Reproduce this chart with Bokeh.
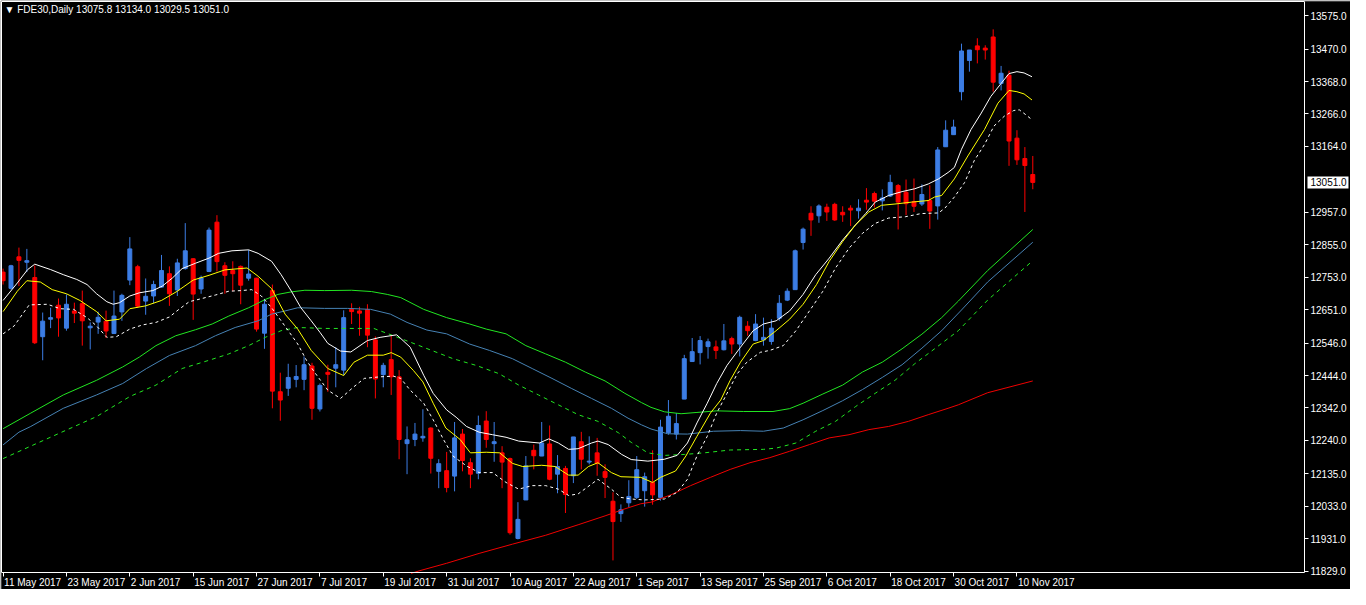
from bokeh.plotting import figure
from bokeh.models import (Range1d, FixedTicker, NumeralTickFormatter, Label, ColumnDataSource,
                          LinearAxis)
from bokeh.core.properties import value
from bokeh.embed import file_html
from bokeh.resources import INLINE

# ---------------- candle data (daily bars, index 0 = 11 May 2017) ----------------
opens = [12769, 12718, 12817, 12800, 12752, 12566, 12621, 12665, 12593, 12647,
         12670, 12594, 12612, 12615, 12576, 12644, 12744, 12786, 12678, 12694,
         12722, 12764, 12713, 12780, 12811, 12716, 12771, 12926, 12789, 12774,
         12787, 12750, 12750, 12577, 12711, 12393, 12404, 12432, 12432, 12474,
         12339, 12454, 12467, 12461, 12652, 12647, 12651, 12556, 12447, 12494,
         12440, 12230, 12243, 12248, 12279, 12143, 12145, 12128, 12260, 12170,
         12137, 12301, 12230, 12201, 12183, 11932, 12053, 12209, 12191, 12229,
         12134, 12152, 12129, 12236, 12172, 12201, 12142, 12049, 12010, 12044,
         12061, 12082, 12108, 12061, 12264, 12260, 12370, 12488, 12516, 12535,
         12534, 12525, 12560, 12543, 12599, 12554, 12556, 12551, 12624, 12681,
         12714, 12862, 12954, 12946, 12973, 12982, 12957, 12970, 12962, 12995,
         13016, 12993, 13008, 13041, 13020, 12991, 12983, 12994, 12977, 13163,
         13201, 13336, 13434, 13480, 13473, 13508, 13362, 13388, 13190, 13126,
         13075.8]
highs = [12780, 12792, 12846, 12842, 12790, 12642, 12657, 12686, 12699, 12673,
         12711, 12611, 12645, 12648, 12711, 12701, 12879, 12792, 12749, 12742,
         12823, 12787, 12811, 12923, 12813, 12758, 12909, 12948, 12800, 12803,
         12790, 12839, 12751, 12685, 12730, 12453, 12481, 12477, 12504, 12484,
         12419, 12478, 12533, 12649, 12671, 12660, 12668, 12567, 12484, 12569,
         12461, 12284, 12295, 12338, 12281, 12181, 12204, 12298, 12276, 12184,
         12318, 12332, 12298, 12222, 12186, 12046, 12191, 12227, 12298, 12287,
         12194, 12160, 12251, 12267, 12253, 12248, 12165, 12077, 12039, 12115,
         12191, 12139, 12209, 12305, 12367, 12326, 12509, 12562, 12568, 12560,
         12554, 12606, 12566, 12632, 12615, 12637, 12626, 12621, 12697, 12718,
         12840, 12909, 12976, 12982, 12984, 12987, 12976, 12979, 12998, 13033,
         13022, 13029, 13075, 13046, 13060, 13063, 13045, 13042, 13162, 13246,
         13248, 13487, 13467, 13504, 13482, 13532, 13417, 13402, 13215, 13162,
         13134.0]
lows = [12730, 12714, 12725, 12769, 12543, 12492, 12593, 12566, 12585, 12609,
        12538, 12526, 12575, 12562, 12575, 12616, 12728, 12657, 12635, 12671,
        12720, 12663, 12694, 12777, 12619, 12701, 12769, 12771, 12701, 12709,
        12668, 12742, 12582, 12528, 12341, 12302, 12380, 12407, 12398, 12305,
        12331, 12393, 12407, 12445, 12606, 12569, 12533, 12372, 12407, 12383,
        12181, 12134, 12222, 12236, 12136, 12090, 12077, 12080, 12143, 12090,
        12118, 12217, 12173, 12090, 11944, 11929, 12053, 12149, 12191, 12115,
        12074, 12012, 12106, 12149, 12165, 12129, 12059, 11863, 11984, 12030,
        12056, 12032, 12038, 12051, 12258, 12243, 12370, 12488, 12479, 12497,
        12496, 12523, 12512, 12504, 12569, 12552, 12538, 12541, 12616, 12678,
        12714, 12840, 12883, 12924, 12930, 12930, 12927, 12914, 12937, 12965,
        12972, 12963, 13005, 12903, 12948, 12958, 12977, 12905, 12934, 13163,
        13201, 13309, 13399, 13425, 13437, 13336, 13340, 13103, 13106, 12958,
        13029.5]
closes = [12742, 12789, 12806, 12805, 12547, 12615, 12626, 12625, 12668, 12640,
          12616, 12599, 12627, 12584, 12631, 12696, 12842, 12662, 12693, 12730,
          12774, 12701, 12798, 12836, 12700, 12751, 12901, 12802, 12759, 12764,
          12728, 12763, 12590, 12668, 12395, 12367, 12438, 12441, 12478, 12341,
          12413, 12448, 12478, 12626, 12645, 12640, 12571, 12433, 12476, 12440,
          12243, 12242, 12260, 12253, 12184, 12167, 12092, 12248, 12177, 12134,
          12287, 12243, 12236, 12172, 11950, 11992, 12160, 12192, 12232, 12118,
          12158, 12070, 12251, 12181, 12175, 12168, 12124, 11985, 12022, 12064,
          12148, 12126, 12069, 12282, 12316, 12293, 12497, 12519, 12554, 12550,
          12523, 12553, 12543, 12627, 12585, 12606, 12564, 12593, 12671, 12709,
          12836, 12904, 12933, 12977, 12958, 12933, 12949, 12964, 12970, 12989,
          12992, 13002, 13051, 12989, 12984, 12976, 13013, 12961, 13153, 13215,
          13225, 13464, 13467, 13468, 13467, 13366, 13394, 13181, 13122, 13104,
          13051.0]

# ---------------- indicator lines (x = bar index) ----------------
fast_upper_x = [0, 1.8, 3.1, 4.0, 6.0, 7.6, 9.3, 10.6, 11.8, 13.1, 13.9, 14.7, 16.0, 17.2, 18.9,
                20.1, 21.4, 22.6, 24.3, 26.0, 27.2, 28.9, 31.0, 32.2, 33.9, 35.1, 36.4, 37.6,
                38.9, 40.0, 41.0, 42.6, 43.9, 46.0, 47.6, 49.7, 51.4, 53.1, 54.3, 56.0, 57.2,
                58.5, 60.1, 61.8, 63.5, 65.1, 67.7, 68.9, 70.1, 71.4, 72.6, 74.3, 75.1, 76.4,
                78.1, 79.3, 81.4, 83.5, 85.1, 86.4, 87.6, 88.9, 90.1, 91.4, 93.1, 94.7, 96.0,
                97.6, 99.3, 101.0, 102.6, 104.3, 106.0, 107.6, 108.9, 110.1, 111.8, 113.5,
                115.1, 116.8, 118.1, 119.3, 120.1, 121.0, 122.2, 123.5, 124.7, 126.0, 127.0,
                128.0, 128.9, 129.9]
fast_upper_y = [12680, 12735, 12777, 12794, 12777, 12761, 12746, 12730, 12701, 12676, 12668,
                12673, 12694, 12704, 12711, 12725, 12751, 12780, 12797, 12813, 12828, 12836,
                12839, 12828, 12803, 12761, 12709, 12657, 12616, 12580, 12545, 12521, 12518,
                12554, 12564, 12572, 12533, 12445, 12388, 12336, 12313, 12284, 12266, 12258,
                12250, 12238, 12232, 12245, 12232, 12212, 12214, 12232, 12238, 12227, 12196,
                12180, 12175, 12181, 12193, 12232, 12295, 12357, 12419, 12476, 12533, 12585,
                12606, 12616, 12647, 12699, 12761, 12813, 12870, 12917, 12953, 12989, 13010,
                13022, 13031, 13046, 13062, 13082, 13098, 13155, 13217, 13269, 13321, 13362,
                13393, 13399, 13395, 13383]

fast_mid_x = [0, 1.8, 3.0, 4.7, 6.2, 8.0, 9.7, 11.8, 13.0, 14.7, 16.0, 18.0, 20.0, 22.0, 24.0,
              26.0, 28.0, 30.8, 32.2, 33.9, 35.6, 37.2, 38.9, 41.0, 43.0, 44.3, 46.0, 48.0,
              49.0, 50.2, 51.8, 53.0, 54.3, 55.9, 57.7, 59.0, 61.0, 62.7, 64.3, 65.6, 68.0,
              69.7, 71.4, 72.6, 73.9, 75.1, 76.8, 78.0, 80.5, 82.0, 83.0, 84.9, 86.2, 87.6,
              89.3, 90.6, 91.8, 93.1, 94.7, 96.0, 97.6, 99.3, 101.0, 102.7, 104.3, 106.0,
              107.6, 109.3, 110.9, 112.6, 114.7, 116.8, 117.6, 118.5, 120.1, 121.8, 123.9,
              125.6, 127.0, 128.0, 128.9, 129.9]
fast_mid_y = [12645, 12709, 12742, 12738, 12714, 12701, 12680, 12645, 12616, 12621, 12654,
              12663, 12680, 12709, 12744, 12759, 12776, 12782, 12756, 12717, 12637, 12590,
              12523, 12466, 12444, 12486, 12508, 12508, 12516, 12502, 12460, 12424, 12357,
              12279, 12243, 12201, 12203, 12201, 12168, 12158, 12162, 12158, 12131, 12131,
              12158, 12170, 12139, 12126, 12124, 12108, 12124, 12144, 12191, 12253, 12326,
              12367, 12429, 12486, 12543, 12554, 12585, 12621, 12668, 12730, 12803, 12865,
              12917, 12958, 12979, 12983, 12989, 12994, 13005, 13010, 13062, 13134, 13217,
              13300, 13340, 13336, 13329, 13310]

fast_lower_x = [0, 1.4, 2.6, 3.3, 5.6, 7.2, 8.9, 10.6, 11.8, 13.1, 14.3, 16.0, 17.6, 19.3, 21.0,
                22.2, 23.5, 25.1, 26.8, 28.5, 30.1, 31.4, 32.6, 33.9, 35.1, 36.0, 37.2, 38.3,
                39.3, 41.0, 42.6, 44.3, 45.6, 47.6, 49.3, 50.2, 51.4, 53.1, 54.3, 55.6, 56.8,
                58.5, 60.1, 61.8, 63.5, 65.1, 66.8, 68.5, 70.1, 71.4, 72.6, 74.3, 75.1, 76.8,
                78.0, 79.3, 81.0, 83.5, 85.1, 86.4, 87.6, 88.9, 90.1, 91.4, 92.7, 93.9, 95.6,
                96.8, 98.5, 100.1, 101.8, 103.5, 105.1, 106.8, 108.5, 110.1, 111.8, 113.9,
                115.9, 118.1, 118.9, 120.1, 121.4, 122.6, 123.9, 125.1, 126.4, 127.6, 128.3,
                129.1, 129.9]
fast_lower_y = [12575, 12600, 12642, 12666, 12668, 12654, 12652, 12626, 12600, 12564, 12566,
                12590, 12603, 12611, 12628, 12652, 12676, 12686, 12697, 12709, 12711, 12714,
                12694, 12657, 12616, 12585, 12543, 12492, 12455, 12398, 12372, 12409, 12435,
                12440, 12442, 12435, 12398, 12357, 12305, 12243, 12191, 12160, 12139, 12139,
                12108, 12087, 12098, 12098, 12087, 12067, 12072, 12103, 12118, 12087, 12061,
                12056, 12053, 12056, 12077, 12118, 12191, 12253, 12326, 12388, 12450, 12486,
                12517, 12523, 12538, 12585, 12647, 12709, 12782, 12844, 12891, 12922, 12939,
                12943, 12953, 12955, 12970, 13005, 13051, 13119, 13170, 13228, 13259, 13277,
                13279, 13264, 13248]

slow_upper_x = [0, 3.5, 7.6, 11.8, 15.1, 17.2, 19.3, 21.8, 24.3, 26.4, 28.5, 31.0, 33.1, 34.7,
                36.4, 38.1, 40.6, 44.0, 46.5, 48.5, 50.2, 53.1, 56.0, 58.9, 61.0, 63.5, 66.0,
                68.5, 71.0, 73.5, 76.0, 78.5, 80.6, 81.8, 83.5, 85.6, 87.6, 90.1, 93.5, 97.2,
                99.3, 101.0, 103.5, 106.0, 108.5, 111.0, 113.5, 116.0, 118.5, 120.6, 124.3, 130]
slow_upper_y = [12277, 12326, 12383, 12429, 12471, 12502, 12538, 12569, 12588, 12606, 12631,
                12657, 12683, 12699, 12707, 12712, 12711, 12712, 12708, 12699, 12689, 12652,
                12626, 12606, 12590, 12575, 12538, 12512, 12486, 12455, 12427, 12388, 12359,
                12344, 12330, 12324, 12328, 12333, 12331, 12331, 12340, 12357, 12386, 12414,
                12455, 12486, 12528, 12574, 12626, 12678, 12774, 12903]

slow_mid_x = [0, 2.0, 3.5, 7.6, 11.8, 15.1, 18.1, 21.0, 24.3, 26.8, 29.3, 32.2, 33.9, 35.6,
              37.2, 40.6, 43.5, 46.4, 48.9, 51.0, 53.5, 56.0, 58.9, 61.4, 64.3, 66.8, 69.3,
              71.8, 74.3, 76.8, 78.9, 80.6, 81.8, 83.9, 86.4, 89.7, 93.1, 96.0, 98.5, 101.0,
              103.5, 106.0, 108.5, 111.0, 113.5, 116.0, 118.5, 121.0, 124.3, 130]
slow_mid_y = [12226, 12266, 12284, 12341, 12383, 12419, 12466, 12507, 12538, 12569, 12595,
              12616, 12637, 12647, 12657, 12655, 12655, 12652, 12637, 12611, 12587, 12575,
              12543, 12523, 12497, 12466, 12435, 12403, 12372, 12341, 12310, 12289, 12276,
              12261, 12260, 12269, 12271, 12269, 12279, 12305, 12334, 12365, 12400, 12438,
              12478, 12530, 12585, 12650, 12738, 12863]

slow_lower_x = [0, 7.4, 11.8, 16.0, 19.3, 22.6, 26.0, 28.5, 31.0, 33.1, 35.1, 37.2, 40.6, 46.8,
                49.3, 51.4, 53.9, 56.8, 59.7, 62.6, 65.1, 67.6, 70.1, 72.6, 75.1, 77.7, 79.3,
                81.4, 83.5, 86.0, 88.5, 91.8, 96.0, 97.6, 100.1, 102.6, 105.1, 107.6, 110.1,
                112.6, 115.1, 117.6, 120.6, 124.3, 130]
slow_lower_y = [12183, 12266, 12315, 12378, 12414, 12466, 12492, 12512, 12538, 12564, 12585,
                12595, 12592, 12592, 12569, 12549, 12525, 12497, 12476, 12450, 12414, 12383,
                12352, 12321, 12300, 12264, 12234, 12201, 12193, 12196, 12201, 12210, 12212,
                12216, 12232, 12269, 12300, 12346, 12388, 12429, 12481, 12528, 12585, 12681,
                12805]

ma200_x = [51.5, 52.5, 56.0, 60.1, 64.3, 68.5, 72.6, 76.0, 78.5, 80.5, 81.8, 84.3, 86.8, 89.3,
           91.8, 94.3, 96.8, 99.3, 101.8, 104.3, 106.8, 109.3, 111.8, 114.3, 116.8, 119.3,
           120.6, 124.3, 130]
ma200_y = [11822, 11830, 11854, 11885, 11914, 11942, 11975, 12003, 12025, 12041, 12046, 12069,
           12098, 12124, 12149, 12170, 12186, 12206, 12227, 12248, 12258, 12274, 12284, 12300,
           12321, 12341, 12352, 12390, 12427]

# ---------------- axes ----------------
price_ticks = [13575, 13470, 13368, 13266, 13164, 12957, 12855, 12753, 12651, 12546,
               12444, 12342, 12240, 12135, 12033, 11931, 11829]
last_price = 13051.0
date_ticks = [0, 8, 16, 24, 32, 40, 48, 56, 64, 72, 80, 88, 96, 104, 112, 120, 128]
date_labels = ["11 May 2017", "23 May 2017", "2 Jun 2017", "15 Jun 2017", "27 Jun 2017",
               "7 Jul 2017", "19 Jul 2017", "31 Jul 2017", "10 Aug 2017", "22 Aug 2017",
               "1 Sep 2017", "13 Sep 2017", "25 Sep 2017", "6 Oct 2017", "18 Oct 2017",
               "30 Oct 2017", "10 Nov 2017"]
title_text = "\u25bc FDE30,Daily  13075.8 13134.0 13029.5 13051.0"

FONT = "Liberation Sans"
BULL = "#3c7de4"
BEAR = "#ff0000"
W, H = 1350, 589
# chart area: bars X0..XEDGE, prices Y0..Y1; the frame also holds the price scale
# (right of XEDGE) and the date strip (below Y0)
X0, XEDGE = -0.2, 164.3
Y0, Y1 = 11825, 13619.5
PX_PER_BAR = 1302 / (XEDGE - X0)
PX_PER_PT = 571 / (Y1 - Y0)
XEND = X0 + (W - 2) / PX_PER_BAR
YBOT = Y0 - 17 / PX_PER_PT

p = figure(width=W, height=H, x_range=Range1d(X0, XEND), y_range=Range1d(YBOT, Y1),
           output_backend="svg", toolbar_location=None, y_axis_location="right",
           background_fill_color="black", border_fill_color="black", outline_line_color=None,
           min_border_left=1, min_border_top=1, min_border_right=0, min_border_bottom=0)
p.grid.visible = False

# candles
colors = [BULL if c >= o else BEAR for o, c in zip(opens, closes)]
src = ColumnDataSource(dict(
    x=list(range(len(opens))),
    top=[max(o, c) for o, c in zip(opens, closes)],
    bottom=[min(o, c) for o, c in zip(opens, closes)],
    high=highs, low=lows, color=colors))
p.segment(x0="x", y0="low", x1="x", y1="high", line_color="color", line_width=1, source=src)
p.vbar(x="x", width=0.5, top="top", bottom="bottom", fill_color="color", line_color="color",
       line_width=1, source=src)

# indicator lines
p.line(slow_upper_x, slow_upper_y, line_color="#22e622", line_width=1)
p.line(slow_mid_x, slow_mid_y, line_color="#4682b4", line_width=1)
p.line(slow_lower_x, slow_lower_y, line_color="#22e622", line_width=1, line_dash="4 4")
p.line(ma200_x, ma200_y, line_color="#f00000", line_width=1)
p.line(fast_upper_x, fast_upper_y, line_color="white", line_width=1)
p.line(fast_mid_x, fast_mid_y, line_color="#ffff00", line_width=1)
p.line(fast_lower_x, fast_lower_y, line_color="white", line_width=1, line_dash="3 3")

# right price axis, pinned to the right edge of the chart area
ya = p.yaxis[0]
ya.fixed_location = XEDGE
ya.bounds = (Y0, Y1)
ya.ticker = FixedTicker(ticks=price_ticks)
ya.formatter = NumeralTickFormatter(format="0.0")
ya.axis_line_color = "white"
ya.major_tick_line_color = "white"
ya.minor_tick_line_color = None
ya.major_tick_in = 0
ya.major_tick_out = 4
ya.major_label_standoff = 2
ya.major_label_text_color = "white"
ya.major_label_text_font = FONT
ya.major_label_text_font_size = "10px"

# current price marker on the price scale
p.rect(x=[XEDGE + 23.5 / PX_PER_BAR], y=[last_price], width=41, height=12, width_units="screen",
       height_units="screen", fill_color="white", line_color=None)
p.text(x=[XEDGE], y=[last_price], text=["13051.0"], x_offset=6, text_align="left",
       text_baseline="middle", text_color="black", text_font=value(FONT),
       text_font_size=value("10px"))

# bottom time axis pinned to the bottom of the chart area: tick marks only
xa = p.xaxis[0]
xa.fixed_location = Y0
xa.bounds = (X0, XEDGE)
xa.ticker = FixedTicker(ticks=date_ticks)
xa.major_label_overrides = {t: "" for t in date_ticks}
xa.major_label_text_font_size = "0px"
xa.major_label_standoff = 0
xa.axis_line_color = "white"
xa.major_tick_line_color = "white"
xa.minor_tick_line_color = None
xa.major_tick_in = 0
xa.major_tick_out = 4

# date labels, left-aligned at their ticks in the strip under the chart area
p.text(x=date_ticks, y=[Y0 - 10 / PX_PER_PT] * len(date_ticks), text=date_labels, x_offset=1,
       text_align="left", text_baseline="middle", text_color="white",
       text_font=value(FONT), text_font_size=value("10px"))

# frame border on top and left
top_ax = LinearAxis(ticker=FixedTicker(ticks=[]), bounds=(X0, XEDGE), axis_line_color="white",
                    major_tick_out=0, major_tick_in=0, minor_tick_out=0, minor_tick_in=0,
                    major_label_standoff=0, major_label_text_font_size="0px")
p.add_layout(top_ax, "above")
left_ax = LinearAxis(ticker=FixedTicker(ticks=[]), bounds=(Y0, Y1), axis_line_color="white",
                     major_tick_out=0, major_tick_in=0, minor_tick_out=0, minor_tick_in=0,
                     major_label_standoff=0, major_label_text_font_size="0px")
p.add_layout(left_ax, "left")

# symbol caption
p.add_layout(Label(x=X0, y=Y1 - 8 / PX_PER_PT, x_offset=3, text=title_text, text_align="left",
                   text_baseline="middle", text_color="white", text_font=FONT,
                   text_font_size="10px"))

open("out.html", "w").write(file_html(p, INLINE))
